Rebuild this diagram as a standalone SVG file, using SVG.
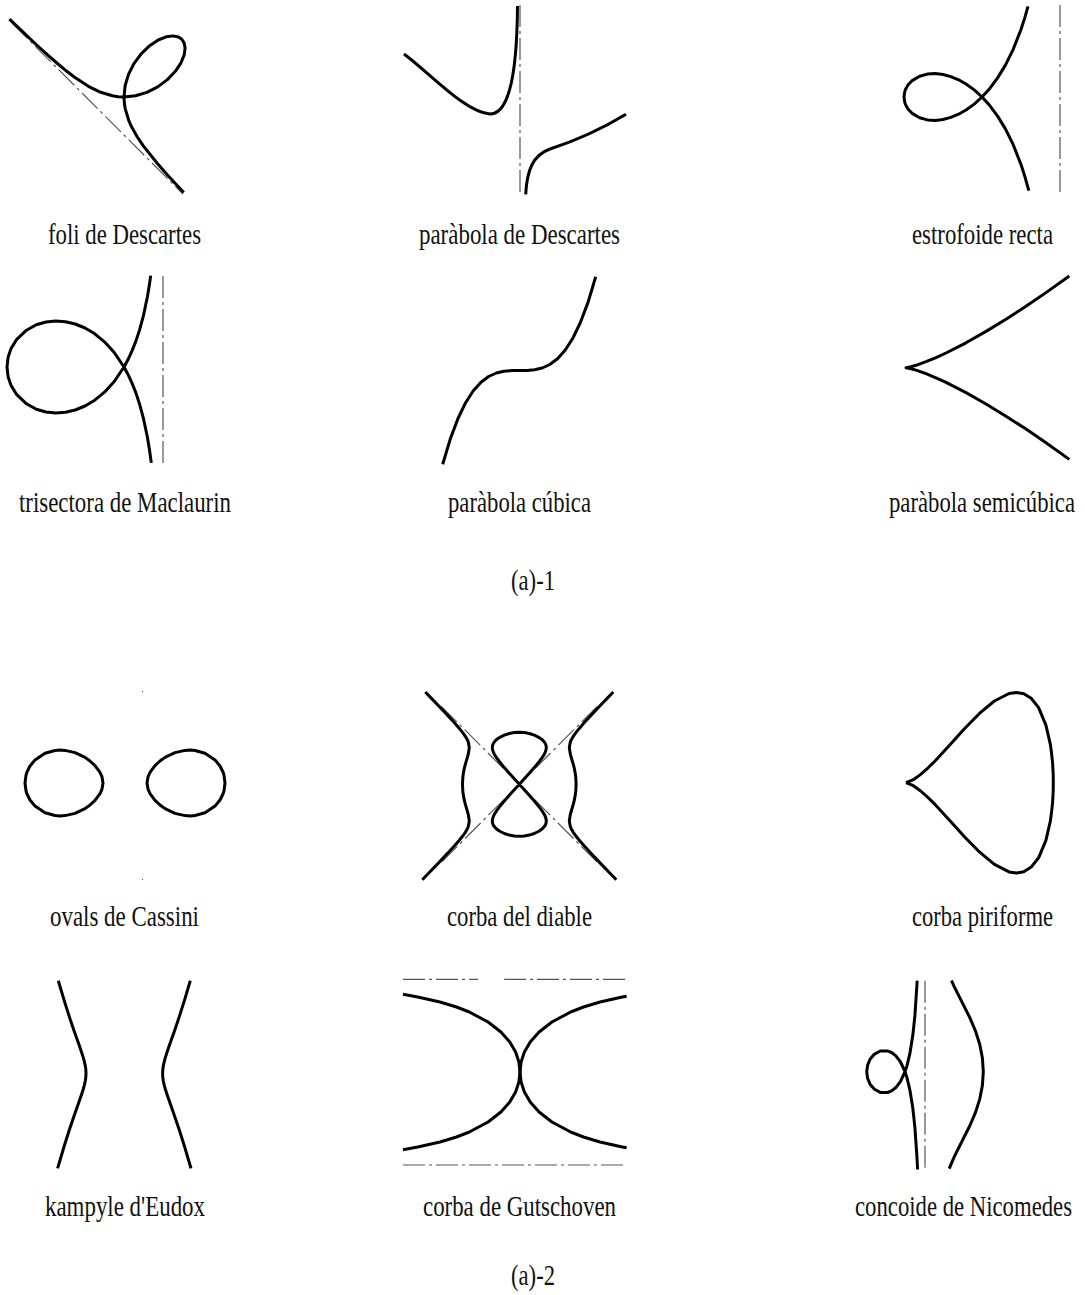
<svg xmlns="http://www.w3.org/2000/svg" width="1085" height="1295" viewBox="0 0 1085 1295">
<style>
.c{fill:none;stroke:#000;stroke-width:3;stroke-linejoin:round;stroke-linecap:butt}
.a{fill:none;stroke:#555;stroke-width:1.2;stroke-dasharray:22 4 3 4}
.t{font-family:"Liberation Serif","Times New Roman",serif;font-size:23px;fill:#111}
</style>
<rect width="1085" height="1295" fill="#fff"/>

<g id="foli">
<line class="a" x1="12" y1="23" x2="183" y2="194"/>
<polyline class="c" points="9.4,19.1 20.5,29.7 35.6,44 47.8,55.1 58,64 66.8,71.3 74.6,77.3 88.4,86.3 100.7,92.3 112.4,95.8 118.2,96.7 124,97 135.5,95.8 146.9,92.4 157.7,86.9 167.4,79.6 175.3,71.3 181,62.8 184.2,54.9 185.1,48.1 184.1,42.9 181.75,39.25 178.5,37 172.9,35.9 166.1,36.8 158.2,40 149.7,45.7 141.4,53.6 134.1,63.3 128.6,74.1 125.15,85.5 124,97 124.3,102.8 125.2,108.6 128.7,120.3 131.3,126.3 137.3,137 143.7,146.4 157,163 167,174.4 183.7,192.5"/>
<text class="t" transform="translate(48,244) scale(1,1.26)" textLength="153" lengthAdjust="spacingAndGlyphs">foli de Descartes</text>
</g>

<g id="parabola-descartes">
<line class="a" x1="520" y1="5" x2="520" y2="193"/>
<path class="c" d="M404,54 C432,75 465,112 490,114 C510,114 517,70 517.5,6"/>
<path class="c" d="M525.7,194.3 C527,170 533,155 550,149 C575,141 605,127 626,114.3"/>
<text class="t" transform="translate(419,244) scale(1,1.26)" textLength="201" lengthAdjust="spacingAndGlyphs">paràbola de Descartes</text>
</g>

<g id="estrofoide">
<line class="a" x1="1060" y1="5" x2="1060" y2="194"/>
<polyline class="c" points="1028,6.4 1024.9,17.4 1021,29.5 1013.2,49.3 1005.4,65.1 997.6,77.9 989.8,88.4 982,97 974.2,104.1 966.4,109.7 958.6,114.2 950.8,117.4 943,119.5 935.2,120.4 927.4,119.9 919.6,117.8 911.8,113.1 907.9,108.9 905.6,104.7 904.8,102.5 904,97 904.8,91.5 905.6,89.3 907.9,85.1 911.8,80.9 919.6,76.2 927.4,74.1 935.2,73.6 943,74.5 950.8,76.6 958.6,79.8 966.4,84.3 974.2,89.9 982,97 989.8,105.6 997.6,116.1 1005.4,128.9 1013.2,144.7 1021,164.5 1024.9,176.6 1028.8,190.6"/>
<text class="t" transform="translate(912,244) scale(1,1.26)" textLength="141" lengthAdjust="spacingAndGlyphs">estrofoide recta</text>
</g>

<g id="trisectora">
<line class="a" x1="163" y1="276" x2="163" y2="464"/>
<polyline class="c" points="150.7,275.6 149.35,285.1 147.4,296.8 143.5,315.4 139.6,329.9 135.7,341.6 131.8,351.4 127.9,359.8 124,367 114.25,381.5 104.5,392.2 94.75,400.2 85,406 75.25,410 65.5,412.3 55.75,413 46,412 36.25,409.2 26.5,403.8 16.75,394.7 10.9,385.1 8.17,377.1 7,367 8.17,356.9 10.9,348.9 16.75,339.3 26.5,330.2 36.25,324.8 46,322 55.75,321 65.5,321.7 75.25,324 85,328 94.75,333.8 104.5,341.8 114.25,352.5 124,367 127.9,374.2 131.8,382.6 135.7,392.4 139.6,404.1 143.5,418.6 147.4,437.2 149.35,448.9 151.3,462.9"/>
<text class="t" transform="translate(19,512) scale(1,1.26)" textLength="212" lengthAdjust="spacingAndGlyphs">trisectora de Maclaurin</text>
</g>

<g id="parabola-cubica">
<polyline class="c" points="442.7,464.3 450.3,438.9 458,418.5 465.6,402.7 473.3,390.8 481,382.2 488.6,376.5 496.3,373 503.9,371.3 511.6,370.6 519.2,370.5 526.9,370.4 534.5,369.7 542.2,368 549.8,364.5 557.5,358.8 565.1,350.2 572.8,338.3 580.4,322.5 588.1,302.1 595.7,276.7"/>
<text class="t" transform="translate(448,512) scale(1,1.26)" textLength="143" lengthAdjust="spacingAndGlyphs">paràbola cúbica</text>
</g>

<g id="parabola-semicubica">
<polyline class="c" points="1069.3,276 1046,292.6 1026,306.3 1006,319.2 986,331.4 966,342.8 946,353 936,357.6 926,361.7 916,365.3 911,366.7 906,367.7 911,368.7 916,370.1 926,373.7 936,377.8 946,382.4 966,392.6 986,404 1006,416.2 1026,429.1 1046,442.8 1069.3,459.4"/>
<text class="t" transform="translate(889,512) scale(1,1.26)" textLength="186" lengthAdjust="spacingAndGlyphs">paràbola semicúbica</text>
</g>

<text id="label-a1" class="t" transform="translate(511,590) scale(1,1.26)" textLength="44" lengthAdjust="spacingAndGlyphs">(a)-1</text>

<g id="cassini">
<rect x="142" y="691" width="1" height="1" fill="#444"/>
<rect x="142" y="879" width="1" height="1" fill="#444"/>
<polygon class="c" points="147,783 148,776.9 150,772.4 155,765.7 160,761 165,757.4 175,752.6 185,750.4 190,750.1 195,750.5 205,753.3 215,759.9 220,766 223,772 224,775.2 225,783 224,790.8 223,794 220,800 215,806.1 205,812.7 195,815.5 190,815.9 185,815.6 175,813.4 165,808.6 160,805 155,800.3 150,793.6 148,789.1"/>
<polygon class="c" points="103,783 102,776.9 100,772.4 95,765.7 90,761 85,757.4 75,752.6 65,750.4 60,750.1 55,750.5 45,753.3 35,759.9 30,766 27,772 26,775.2 25,783 26,790.8 27,794 30,800 35,806.1 45,812.7 55,815.5 60,815.9 65,815.6 75,813.4 85,808.6 90,805 95,800.3 100,793.6 102,789.1"/>
<text class="t" transform="translate(50,926) scale(1,1.26)" textLength="149" lengthAdjust="spacingAndGlyphs">ovals de Cassini</text>
</g>

<g id="diable">
<line class="a" x1="441.3" y1="706.3" x2="597.3" y2="862.3"/>
<line class="a" x1="597.3" y1="706.3" x2="441.3" y2="862.3"/>
<polygon class="c" points="519.3,784.3 524.3,778.8 529.3,773.3 534.3,767.6 539.3,761.5 542.3,757.4 544.3,754.2 545.3,752.1 546,749.9 546.3,747.6 546,745.3 545.3,743.5 544.3,742 542.3,739.8 539.3,737.6 534.3,735.1 529.3,733.5 524.3,732.6 519.3,732.3 514.3,732.6 509.3,733.5 504.3,735.1 499.3,737.6 496.3,739.8 494.3,742 493.3,743.5 492.6,745.3 492.3,747.6 492.6,749.9 493.3,752.1 494.3,754.2 496.3,757.4 499.3,761.5 504.3,767.6 509.3,773.3 514.3,778.8 519.3,784.3 524.3,789.8 529.3,795.3 534.3,801 539.3,807.1 542.3,811.2 544.3,814.4 545.3,816.5 546,818.7 546.3,821 546,823.3 545.3,825.1 544.3,826.6 542.3,828.8 539.3,831 534.3,833.5 529.3,835.1 524.3,836 519.3,836.3 514.3,836 509.3,835.1 504.3,833.5 499.3,831 496.3,828.8 494.3,826.6 493.3,825.1 492.6,823.3 492.3,821 492.6,818.7 493.3,816.5 494.3,814.4 496.3,811.2 499.3,807.1 504.3,801 509.3,795.3 514.3,789.8"/>
<polyline class="c" points="613.3,692 609.3,696.1 599.3,706.5 589.3,717.1 584.3,722.6 579.3,728.4 575.3,733.4 574.3,734.8 573.3,736.3 571.3,739.7 570.3,742.1 569.3,747.6 570.3,754 571.3,757.6 573.3,764.4 574.3,768.4 575.3,773.7 575.8,777.7 576.1,784.3 575.8,790.9 575.3,794.9 574.3,800.2 573.3,804.2 571.3,811 570.3,814.6 569.3,821 570.3,826.5 571.3,828.9 573.3,832.3 574.3,833.8 575.3,835.2 579.3,840.2 584.3,846 589.3,851.5 599.3,862.1 609.3,872.5 616.3,879.7"/>
<polyline class="c" points="425.3,692 429.3,696.1 439.3,706.5 449.3,717.1 454.3,722.6 459.3,728.4 463.3,733.4 464.3,734.8 465.3,736.3 467.3,739.7 468.3,742.1 469.3,747.6 468.3,754 467.3,757.6 465.3,764.4 464.3,768.4 463.3,773.7 462.8,777.7 462.5,784.3 462.8,790.9 463.3,794.9 464.3,800.2 465.3,804.2 467.3,811 468.3,814.6 469.3,821 468.3,826.5 467.3,828.9 465.3,832.3 464.3,833.8 463.3,835.2 459.3,840.2 454.3,846 449.3,851.5 439.3,862.1 429.3,872.5 422.3,879.7"/>
<text class="t" transform="translate(447,926) scale(1,1.26)" textLength="145" lengthAdjust="spacingAndGlyphs">corba del diable</text>
</g>

<g id="piriforme">
<polyline class="c" points="906,782.7 913.4,779.7 920.7,774.4 928.1,767.8 935.5,760.5 950.2,744.5 964.9,728.2 979.7,713.2 994.4,701 1009.1,693.5 1016.5,692.4 1023.8,693.7 1031.2,698.3 1038.6,707.6 1045.9,725.1 1050.4,744.6 1051.8,755.3 1052.6,763.2 1052.9,768.9 1053.2,773.9 1053.3,782.7 1053.2,791.5 1052.9,796.6 1052.6,802.2 1051.8,810.1 1050.4,820.8 1045.9,840.3 1038.6,857.8 1031.2,867.1 1023.8,871.7 1016.5,873 1009.1,871.9 994.4,864.4 979.7,852.2 964.9,837.2 950.2,820.9 935.5,804.9 928.1,797.6 920.7,791 913.4,785.7 906,782.7"/>
<text class="t" transform="translate(912,926) scale(1,1.26)" textLength="141" lengthAdjust="spacingAndGlyphs">corba piriforme</text>
</g>

<g id="kampyle">
<polyline class="c" points="58.3,980.7 64.3,1000.9 69.3,1016.6 74.3,1031.4 79.3,1045.6 81.8,1052.9 83.3,1057.6 84.3,1061.3 85.3,1065.8 85.8,1069.4 86,1073.3 85.8,1077.2 85.3,1080.8 84.3,1085.3 83.3,1089 81.8,1093.7 79.3,1101 74.3,1115.2 69.3,1130 64.3,1145.7 57.6,1168.4"/>
<polyline class="c" points="190.3,980.7 184.3,1000.9 179.3,1016.6 174.3,1031.4 169.3,1045.6 166.8,1052.9 165.3,1057.6 164.3,1061.3 163.3,1065.8 162.8,1069.4 162.6,1073.3 162.8,1077.2 163.3,1080.8 164.3,1085.3 165.3,1089 166.8,1093.7 169.3,1101 174.3,1115.2 179.3,1130 184.3,1145.7 191,1168.4"/>
<text class="t" transform="translate(45,1216) scale(1,1.26)" textLength="160" lengthAdjust="spacingAndGlyphs">kampyle d'Eudox</text>
</g>

<g id="gutschoven">
<line class="a" x1="403" y1="979.3" x2="478" y2="979.3"/>
<line class="a" x1="504" y1="979.3" x2="627" y2="979.3"/>
<line class="a" x1="403" y1="1165" x2="627" y2="1165"/>
<polyline class="c" points="403,994.3 417.7,997 440,1002 456.5,1007 469.3,1012 488.1,1022 500.9,1032 509.8,1042 515.6,1052 518.9,1062 520,1072 518.9,1082 515.6,1092 509.8,1102 500.9,1112 488.1,1122 469.3,1132 456.5,1137 440,1142 417.7,1147 403,1149.7"/>
<polyline class="c" points="626.6,996.2 622.3,997 600,1002 583.5,1007 570.7,1012 551.9,1022 539.1,1032 530.2,1042 524.4,1052 521.1,1062 520,1072 521.1,1082 524.4,1092 530.2,1102 539.1,1112 551.9,1122 570.7,1132 583.5,1137 600,1142 622.3,1147 626.6,1147.8"/>
<text class="t" transform="translate(423,1216) scale(1,1.26)" textLength="193" lengthAdjust="spacingAndGlyphs">corba de Gutschoven</text>
</g>

<g id="concoide">
<line class="a" x1="925" y1="980.7" x2="925" y2="1169.3"/>
<polyline class="c" points="917.2,980.7 914.9,1015.7 912.9,1034.6 909.9,1053.4 907,1065.6 905.1,1071.5 900.4,1081.65 895.85,1087.55 891.6,1090.9 887.5,1092.5 880.3,1092.4 874.5,1089.3 870.2,1084.4 867.6,1078.3 866.7,1071.7 867.6,1065.1 870.2,1059 874.5,1054.1 880.3,1051 887.5,1050.9 891.6,1052.5 895.85,1055.85 900.4,1061.75 905.1,1071.9 907,1077.8 909.9,1090 912.9,1108.8 914.9,1127.7 916.9,1156.3 917.6,1169.5"/>
<polyline class="c" points="951.5,980.5 954.2,986.6 962.5,1003.2 969.7,1017.4 975.5,1031 979.8,1044.5 982.4,1058.05 983.3,1071.7 982.4,1085.35 979.8,1098.9 975.5,1112.4 969.7,1126 962.5,1140.2 954.2,1156.8 949.2,1168.7"/>
<text class="t" transform="translate(855,1216) scale(1,1.26)" textLength="217" lengthAdjust="spacingAndGlyphs">concoide de Nicomedes</text>
</g>

<text id="label-a2" class="t" transform="translate(511,1285) scale(1,1.26)" textLength="44" lengthAdjust="spacingAndGlyphs">(a)-2</text>
</svg>
